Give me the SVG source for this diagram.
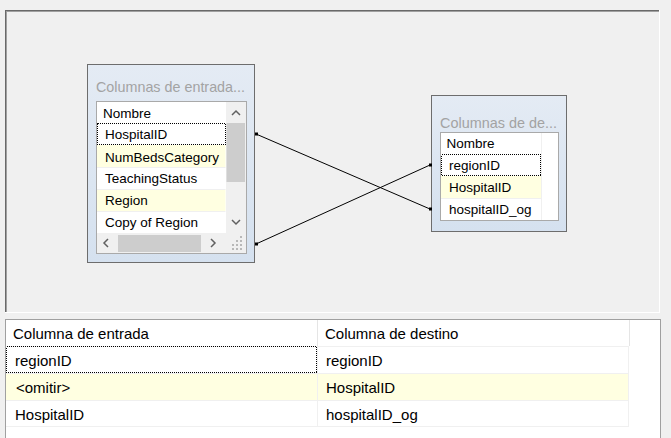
<svg xmlns="http://www.w3.org/2000/svg" width="671" height="438" viewBox="0 0 671 438">
<style>
  text { font-family: "Liberation Sans", Arial, sans-serif; fill: #000; }
  .title { font-size: 14.4px; fill: #a3a3a3; }
  .item { font-size: 13.5px; }
  .cell { font-size: 15px; }
  .sep { stroke: #f0f0f0; stroke-width: 1; }
  .dot { fill: none; stroke: #000; stroke-width: 1; stroke-dasharray: 1 1; shape-rendering: crispEdges; }
  .chev { fill: none; stroke: #606060; stroke-width: 1.5; }
  .conn { stroke: #000; stroke-width: 1; }
  .yel { fill: #ffffe1; }
  .grip { fill: #b8b8b8; }
</style>
<defs>
  <linearGradient id="nodeBg" x1="0" y1="0" x2="0" y2="1">
    <stop offset="0" stop-color="#e4ebf4"/>
    <stop offset="1" stop-color="#d5e1ef"/>
  </linearGradient>
</defs>

<rect x="0" y="0" width="671" height="438" fill="#f0f0f0"/>

<!-- top panel (sunken) -->
<g id="canvas">
  <rect x="5" y="10" width="655" height="303" fill="#f0f0f0"/>
  <line x1="5" y1="10.5" x2="659" y2="10.5" stroke="#696969"/>
  <line x1="5" y1="11.5" x2="659" y2="11.5" stroke="#a0a0a0"/>
  <line x1="5.5" y1="10" x2="5.5" y2="313" stroke="#696969"/>
  <line x1="6.5" y1="11" x2="6.5" y2="312" stroke="#a0a0a0"/>
  <line x1="659.5" y1="10" x2="659.5" y2="313" stroke="#ffffff"/>
  <line x1="5" y1="312.5" x2="660" y2="312.5" stroke="#ffffff"/>
</g>

<!-- left node -->
<g id="node-input">
  <rect x="87.5" y="64.5" width="167" height="198" fill="url(#nodeBg)" stroke="#6d6d6d"/>
  <text class="title" x="96" y="92" textLength="149" lengthAdjust="spacingAndGlyphs">Columnas de entrada...</text>
  <rect x="96.5" y="101.5" width="150" height="152" fill="#ffffff" stroke="#a9a9a9"/>
  <rect class="yel" x="97" y="145" width="128.5" height="22"/>
  <rect class="yel" x="97" y="189" width="128.5" height="22"/>
  <line class="sep" x1="97" y1="167.5" x2="225.5" y2="167.5"/>
  <line class="sep" x1="97" y1="189.5" x2="225.5" y2="189.5"/>
  <line class="sep" x1="97" y1="211.5" x2="225.5" y2="211.5"/>
  <rect class="dot" x="97.5" y="123.5" width="127.5" height="21"/>
  <text class="item" x="103" y="117.5">Nombre</text>
  <text class="item" x="105" y="139">HospitalID</text>
  <text class="item" x="105" y="161.5">NumBedsCategory</text>
  <text class="item" x="105" y="183">TeachingStatus</text>
  <text class="item" x="105" y="205">Region</text>
  <text class="item" x="105" y="227">Copy of Region</text>
  <!-- vertical scrollbar -->
  <rect x="226" y="102" width="20" height="131" fill="#f0f0f0"/>
  <rect x="226.5" y="123" width="18.5" height="59" fill="#cdcdcd"/>
  <polyline class="chev" points="232,115 236,111 240,115"/>
  <polyline class="chev" points="232,220 236,224 240,220"/>
  <!-- horizontal scrollbar -->
  <rect x="97" y="233" width="149" height="20" fill="#f0f0f0"/>
  <rect x="118" y="235" width="83" height="17" fill="#cdcdcd"/>
  <polyline class="chev" points="108,239 104,243 108,247"/>
  <polyline class="chev" points="211,239 215,243 211,247"/>
  <rect class="grip" x="240" y="236" width="2" height="2"/>
  <rect class="grip" x="236" y="240" width="2" height="2"/>
  <rect class="grip" x="240" y="240" width="2" height="2"/>
  <rect class="grip" x="232" y="244" width="2" height="2"/>
  <rect class="grip" x="236" y="244" width="2" height="2"/>
  <rect class="grip" x="240" y="244" width="2" height="2"/>
  <rect class="grip" x="232" y="248" width="2" height="2"/>
  <rect class="grip" x="236" y="248" width="2" height="2"/>
  <rect class="grip" x="240" y="248" width="2" height="2"/>
</g>

<!-- right node -->
<g id="node-dest">
  <rect x="431.5" y="95.5" width="135" height="136" fill="url(#nodeBg)" stroke="#6d6d6d"/>
  <text class="title" x="440" y="128" textLength="117" lengthAdjust="spacingAndGlyphs">Columnas de de...</text>
  <rect x="440.5" y="132.5" width="118" height="88" fill="#ffffff" stroke="#a9a9a9"/>
  <rect class="yel" x="441" y="176" width="100" height="22"/>
  <line class="sep" x1="441" y1="198.5" x2="541" y2="198.5"/>
  <line class="sep" x1="541.5" y1="133" x2="541.5" y2="220"/>
  <rect class="dot" x="441.5" y="154.5" width="99" height="21"/>
  <text class="item" x="446.5" y="148">Nombre</text>
  <text class="item" x="449" y="170">regionID</text>
  <text class="item" x="449" y="192">HospitalID</text>
  <text class="item" x="449" y="214">hospitalID_og</text>
</g>

<!-- connectors -->
<g id="connectors">
  <line class="conn" x1="256" y1="134" x2="430" y2="209"/>
  <line class="conn" x1="256" y1="244" x2="430" y2="165"/>
  <rect x="255" y="132.5" width="3" height="3" fill="#000"/>
  <rect x="255" y="242.5" width="3" height="3" fill="#000"/>
  <rect x="429" y="163.5" width="3" height="3" fill="#000"/>
  <rect x="429" y="207.5" width="3" height="3" fill="#000"/>
</g>

<!-- mapping table -->
<g id="mapping-table">
  <rect x="5.5" y="319.5" width="655" height="125" fill="#ffffff" stroke="#a0a0a0"/>
  <line x1="317.5" y1="320" x2="317.5" y2="346" stroke="#e5e5e5"/>
  <line x1="629.5" y1="320" x2="629.5" y2="346" stroke="#e5e5e5"/>
  <line x1="6" y1="346.5" x2="629" y2="346.5" stroke="#f0f0f0"/>
  <rect class="yel" x="6" y="373" width="622" height="27"/>
  <line class="sep" x1="6" y1="373.5" x2="628" y2="373.5"/>
  <line class="sep" x1="6" y1="400.5" x2="628" y2="400.5"/>
  <line class="sep" x1="6" y1="426.5" x2="628" y2="426.5"/>
  <line class="sep" x1="317.5" y1="347" x2="317.5" y2="426"/>
  <line class="sep" x1="628.5" y1="347" x2="628.5" y2="427"/>
  <rect class="dot" x="6.5" y="346.5" width="310" height="26"/>
  <text class="cell" x="13" y="338.5">Columna de entrada</text>
  <text class="cell" x="325" y="338.5">Columna de destino</text>
  <text class="cell" x="15" y="365.5">regionID</text>
  <text class="cell" x="326" y="365.5">regionID</text>
  <text class="cell" x="16" y="392.5">&lt;omitir&gt;</text>
  <text class="cell" x="326" y="392.5">HospitalID</text>
  <text class="cell" x="15" y="419.5">HospitalID</text>
  <text class="cell" x="326" y="419.5">hospitalID_og</text>
</g>
</svg>
